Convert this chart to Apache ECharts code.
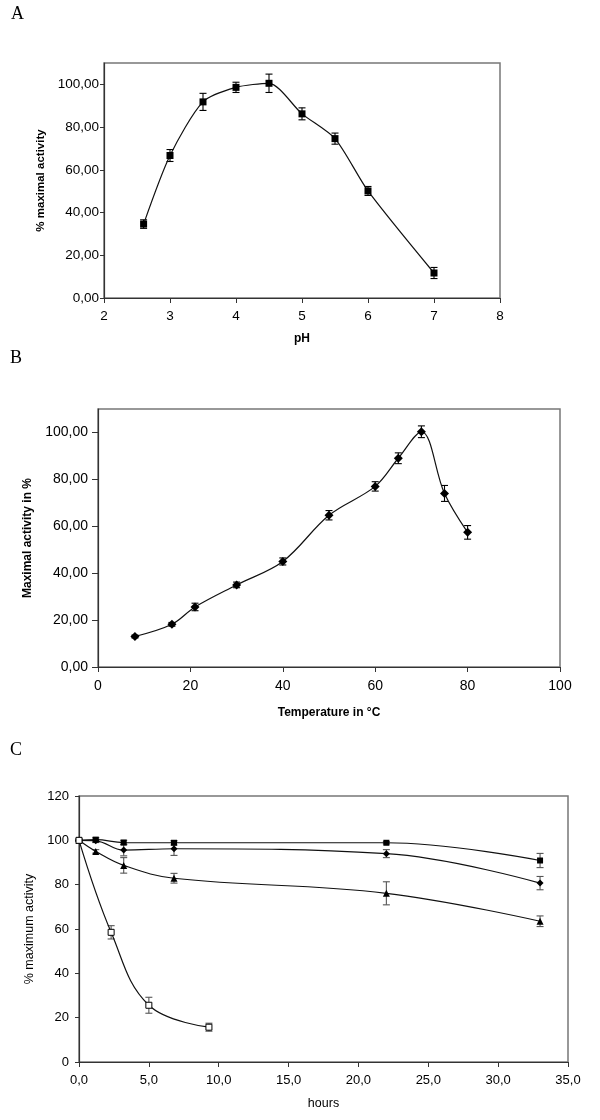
<!DOCTYPE html>
<html><head><meta charset="utf-8">
<script src="https://cdn.jsdelivr.net/npm/echarts@6/dist/echarts.min.js"></script>
<style>html,body{margin:0;padding:0;background:#fff}#c{width:600px;height:1120px}</style>
</head><body><div id="c"></div>
<script>
// Panel A: pH profile
const phValues = [2.6, 3, 3.5, 4, 4.5, 5, 5.5, 6, 7];
const phActivity = [34.6, 66.7, 91.8, 98.6, 100.5, 86.2, 74.6, 50.1, 11.7];
const phError = [2.0, 2.8, 4.0, 2.4, 4.3, 2.8, 2.6, 2.1, 2.6];
const phTicks = [0, 20, 40, 60, 80, 100];
// Panel B: temperature profile
const tempValues = [8, 16, 21, 30, 40, 50, 60, 65, 70, 75, 80];
const tempActivity = [13.0, 18.2, 25.6, 35.0, 45.0, 64.7, 77.0, 89.0, 100.3, 74.0, 57.4];
const tempError = [0.6, 0.8, 1.6, 1.2, 1.5, 2.0, 2.0, 2.3, 2.5, 3.4, 2.9];
const tempTicks = [0, 20, 40, 60, 80, 100];
// Panel C: stability over time
const hoursMain = [0, 1.2, 3.2, 6.8, 22, 33];
const stabSquare = [100, 100.3, 99.0, 98.9, 98.9, 90.9];
const stabSquareErr = [0.5, 1.0, 1.0, 1.0, 0.5, 3.2];
const stabDiamond = [100, 99.8, 95.6, 96.2, 94.0, 80.7];
const stabDiamondErr = [0.5, 0.8, 2.6, 3.0, 1.8, 3.0];
const stabTriangle = [100, 95.0, 88.7, 82.9, 76.1, 63.5];
const stabTriangleErr = [0.5, 0.8, 3.5, 2.2, 5.2, 2.4];
const hoursOpen = [0, 2.3, 5.0, 9.3];
const stabOpen = [100, 58.5, 25.6, 15.7];
const stabOpenErr = [0.5, 3.0, 3.6, 1.8];
const stabYTicks = [0, 20, 40, 60, 80, 100, 120];
const stabXTicks = [0, 5, 10, 15, 20, 25, 30, 35];

const AX = '#333';
const FONT = 'Liberation Sans';

function pairs(xs, ys) { return xs.map((x, i) => [x, ys[i]]); }
function errSeries(idx, xs, ys, es, color) {
  return {
    type: 'custom', xAxisIndex: idx, yAxisIndex: idx, silent: true, z: 3,
    data: xs.map((x, i) => [x, ys[i] - es[i], ys[i] + es[i]]),
    encode: { x: 0, y: [1, 2] },
    renderItem(params, api) {
      const x = api.value(0);
      const lo = api.coord([x, api.value(1)]);
      const hi = api.coord([x, api.value(2)]);
      const w = 3.5;
      const st = { stroke: color, lineWidth: 1.1 };
      return { type: 'group', children: [
        { type: 'line', shape: { x1: lo[0], y1: lo[1], x2: hi[0], y2: hi[1] }, style: st },
        { type: 'line', shape: { x1: lo[0] - w, y1: lo[1], x2: lo[0] + w, y2: lo[1] }, style: st },
        { type: 'line', shape: { x1: hi[0] - w, y1: hi[1], x2: hi[0] + w, y2: hi[1] }, style: st }
      ]};
    }
  };
}
function lineSeries(idx, xs, ys, symbol, size, fill, smooth) {
  return {
    type: 'line', xAxisIndex: idx, yAxisIndex: idx, data: pairs(xs, ys),
    smooth: smooth, symbol: symbol, symbolSize: size, showSymbol: true, z: 4,
    lineStyle: { color: '#111', width: 1.2 },
    itemStyle: { color: fill, borderColor: '#000', borderWidth: fill === '#fff' ? 1 : 0 },
    emphasis: { disabled: true }
  };
}
const dec2 = v => v.toFixed(2).replace('.', ',');
const dec1 = v => v.toFixed(1).replace('.', ',');

function xAxisCfg(idx, min, max, interval, name, gap, bold, fs, fmt, margin) {
  return {
    type: 'value', gridIndex: idx, min, max, interval,
    name, nameLocation: 'middle', nameGap: gap,
    nameTextStyle: { fontFamily: FONT, fontSize: bold ? 12 : 12.5, fontWeight: bold ? 'bold' : 'normal', color: '#000' },
    axisLine: { show: true, onZero: false, lineStyle: { color: AX, width: 1.2 } },
    axisTick: { show: true, inside: false, length: 5, lineStyle: { color: AX } },
    axisLabel: { fontFamily: FONT, fontSize: fs, color: '#000', margin, formatter: fmt },
    splitLine: { show: false }
  };
}
function yAxisCfg(idx, min, max, ticks, name, gap, bold, fs, fmt, margin, tl) {
  return {
    type: 'value', gridIndex: idx, min, max, interval: 20,
    name, nameLocation: 'middle', nameGap: gap,
    nameTextStyle: { fontFamily: FONT, fontSize: bold ? (idx === 1 ? 12 : 11.5) : 12.5, fontWeight: bold ? 'bold' : 'normal', color: '#000' },
    axisLine: { show: true, onZero: false, lineStyle: { color: AX, width: 1.2 } },
    axisTick: { show: true, inside: false, length: tl, customValues: ticks, lineStyle: { color: AX } },
    axisLabel: { fontFamily: FONT, fontSize: fs, color: '#000', margin, formatter: fmt, customValues: ticks },
    splitLine: { show: false }
  };
}

const chart = echarts.init(document.getElementById('c'), null, { renderer: 'canvas' });
chart.setOption({
  animation: false,
  backgroundColor: '#fff',
  grid: [
    { left: 104, top: 63, width: 396, height: 235, show: true, borderColor: '#777', borderWidth: 1.5, backgroundColor: 'transparent' },
    { left: 98, top: 409, width: 462, height: 258, show: true, borderColor: '#777', borderWidth: 1.5, backgroundColor: 'transparent' },
    { left: 79, top: 796, width: 489, height: 266, show: true, borderColor: '#777', borderWidth: 1.5, backgroundColor: 'transparent' }
  ],
  xAxis: [
    xAxisCfg(0, 2, 8, 1, 'pH', 35, true, 13.5, v => String(v), 11),
    xAxisCfg(1, 0, 100, 20, 'Temperature in °C', 40, true, 14, v => String(v), 12),
    xAxisCfg(2, 0, 35, 5, 'hours', 35, false, 13, dec1, 12)
  ],
  yAxis: [
    yAxisCfg(0, 0, 110, phTicks, '% maximal activity', 52, true, 13.5, dec2, 5, 4),
    yAxisCfg(1, 0, 110, tempTicks, 'Maximal activity in %', 64, true, 14, dec2, 10, 6),
    yAxisCfg(2, 0, 120, stabYTicks, '% maximum activity', 31, false, 13, v => String(v), 10, 4)
  ],
  graphic: [
    { type: 'text', left: 11, top: 5, style: { text: 'A', font: '18px "Liberation Serif"', fill: '#000' } },
    { type: 'text', left: 10, top: 349, style: { text: 'B', font: '18px "Liberation Serif"', fill: '#000' } },
    { type: 'text', left: 10, top: 741, style: { text: 'C', font: '18px "Liberation Serif"', fill: '#000' } }
  ],
  series: [
    errSeries(0, phValues, phActivity, phError, '#000'),
    lineSeries(0, phValues, phActivity, 'rect', 7, '#000', 0.25),
    errSeries(1, tempValues, tempActivity, tempError, '#000'),
    lineSeries(1, tempValues, tempActivity, 'diamond', 9, '#000', 0.35),
    errSeries(2, hoursMain, stabSquare, stabSquareErr, '#555'),
    errSeries(2, hoursMain, stabDiamond, stabDiamondErr, '#555'),
    errSeries(2, hoursMain, stabTriangle, stabTriangleErr, '#555'),
    errSeries(2, hoursOpen, stabOpen, stabOpenErr, '#555'),
    lineSeries(2, hoursMain, stabSquare, 'rect', 6, '#000', 0.4),
    lineSeries(2, hoursMain, stabDiamond, 'diamond', 7, '#000', 0.4),
    lineSeries(2, hoursMain, stabTriangle, 'triangle', 7, '#000', 0.4),
    lineSeries(2, hoursOpen, stabOpen, 'rect', 6, '#fff', 0.4)
  ]
});
</script></body></html>
